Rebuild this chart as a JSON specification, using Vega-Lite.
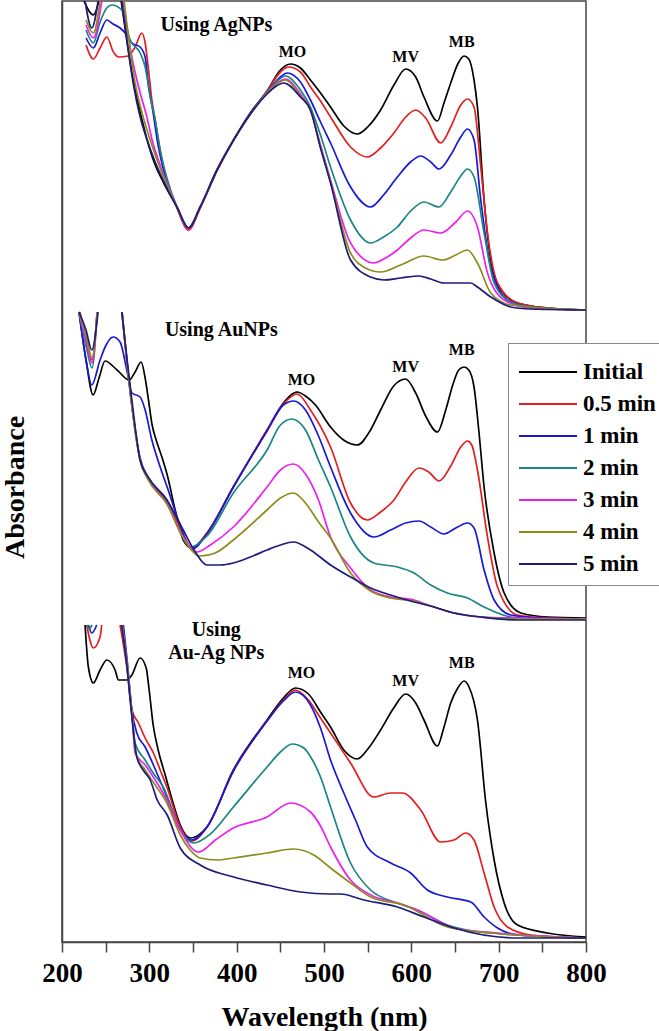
{
"$schema": "https://vega.github.io/schema/vega-lite/v6.json",
"width": 524, "height": 941, "autosize": "none",
"padding": {"left": 62, "top": 1, "right": 73, "bottom": 89},
"background": "white",
"config": {"font": "Liberation Serif", "view": {"stroke": "#444", "strokeWidth": 1.5}},
"datasets": {
"curves": [
{"s":"Initial","k":"1a","w":225.2,"a":9.41},{"s":"Initial","k":"1a","w":235.9,"a":9.27},{"s":"Initial","k":"1a","w":242.4,"a":9.41},
{"s":"Initial","k":"1b","w":267.7,"a":9.41},{"s":"Initial","k":"1b","w":274.2,"a":9.02},{"s":"Initial","k":"1b","w":281.5,"a":8.62},{"s":"Initial","k":"1b","w":289.5,"a":8.30},{"s":"Initial","k":"1b","w":297.5,"a":8.02},{"s":"Initial","k":"1b","w":306.7,"a":7.77},{"s":"Initial","k":"1b","w":315.9,"a":7.60},{"s":"Initial","k":"1b","w":331.6,"a":7.35},{"s":"Initial","k":"1b","w":344.9,"a":7.14},{"s":"Initial","k":"1b","w":358.3,"a":7.35},{"s":"Initial","k":"1b","w":377.5,"a":7.72},{"s":"Initial","k":"1b","w":396.5,"a":8.02},{"s":"Initial","k":"1b","w":415.7,"a":8.29},{"s":"Initial","k":"1b","w":434.8,"a":8.51},{"s":"Initial","k":"1b","w":450.1,"a":8.72},{"s":"Initial","k":"1b","w":461.6,"a":8.78},{"s":"Initial","k":"1b","w":473.0,"a":8.74},{"s":"Initial","k":"1b","w":484.5,"a":8.62},{"s":"Initial","k":"1b","w":496.0,"a":8.49},{"s":"Initial","k":"1b","w":507.5,"a":8.35},{"s":"Initial","k":"1b","w":522.7,"a":8.16},{"s":"Initial","k":"1b","w":538.1,"a":8.08},{"s":"Initial","k":"1b","w":551.1,"a":8.16},{"s":"Initial","k":"1b","w":564.8,"a":8.32},{"s":"Initial","k":"1b","w":580.1,"a":8.57},{"s":"Initial","k":"1b","w":593.5,"a":8.73},{"s":"Initial","k":"1b","w":605.0,"a":8.65},{"s":"Initial","k":"1b","w":614.5,"a":8.45},{"s":"Initial","k":"1b","w":629.9,"a":8.21},{"s":"Initial","k":"1b","w":637.4,"a":8.39},{"s":"Initial","k":"1b","w":645.1,"a":8.59},{"s":"Initial","k":"1b","w":653.2,"a":8.78},{"s":"Initial","k":"1b","w":660.4,"a":8.86},{"s":"Initial","k":"1b","w":665.8,"a":8.83},{"s":"Initial","k":"1b","w":671.8,"a":8.62},{"s":"Initial","k":"1b","w":675.7,"a":8.35},{"s":"Initial","k":"1b","w":683.3,"a":7.42},{"s":"Initial","k":"1b","w":691.0,"a":6.82},{"s":"Initial","k":"1b","w":702.5,"a":6.52},{"s":"Initial","k":"1b","w":721.6,"a":6.39},{"s":"Initial","k":"1b","w":756.0,"a":6.34},{"s":"Initial","k":"1b","w":800,"a":6.32},

{"s":"0.5 min","k":"1a","w":227.5,"a":8.97},{"s":"0.5 min","k":"1a","w":235.9,"a":8.83},{"s":"0.5 min","k":"1a","w":243.6,"a":8.94},{"s":"0.5 min","k":"1a","w":251.3,"a":9.05},{"s":"0.5 min","k":"1a","w":258.9,"a":8.90},{"s":"0.5 min","k":"1a","w":264.6,"a":8.85},{"s":"0.5 min","k":"1a","w":275.7,"a":8.86},{"s":"0.5 min","k":"1a","w":283.7,"a":8.95},{"s":"0.5 min","k":"1a","w":291.4,"a":9.09},{"s":"0.5 min","k":"1a","w":295.2,"a":8.99},{"s":"0.5 min","k":"1a","w":298.7,"a":8.75},{"s":"0.5 min","k":"1a","w":302.9,"a":8.42},{"s":"0.5 min","k":"1a","w":306.7,"a":8.22},{"s":"0.5 min","k":"1a","w":309.0,"a":8.09},{"s":"0.5 min","k":"1a","w":316.2,"a":7.75},{"s":"0.5 min","k":"1a","w":331.6,"a":7.34},{"s":"0.5 min","k":"1a","w":344.9,"a":7.12},{"s":"0.5 min","k":"1a","w":358.3,"a":7.34},{"s":"0.5 min","k":"1a","w":377.5,"a":7.71},{"s":"0.5 min","k":"1a","w":396.5,"a":8.02},{"s":"0.5 min","k":"1a","w":415.7,"a":8.29},{"s":"0.5 min","k":"1a","w":434.8,"a":8.51},{"s":"0.5 min","k":"1a","w":450.1,"a":8.70},{"s":"0.5 min","k":"1a","w":459.6,"a":8.75},{"s":"0.5 min","k":"1a","w":473.0,"a":8.70},{"s":"0.5 min","k":"1a","w":484.5,"a":8.55},{"s":"0.5 min","k":"1a","w":496.0,"a":8.41},{"s":"0.5 min","k":"1a","w":507.5,"a":8.25},{"s":"0.5 min","k":"1a","w":530.4,"a":7.95},{"s":"0.5 min","k":"1a","w":549.6,"a":7.85},{"s":"0.5 min","k":"1a","w":564.8,"a":7.94},{"s":"0.5 min","k":"1a","w":580.1,"a":8.09},{"s":"0.5 min","k":"1a","w":593.5,"a":8.25},{"s":"0.5 min","k":"1a","w":605.0,"a":8.32},{"s":"0.5 min","k":"1a","w":616.4,"a":8.24},{"s":"0.5 min","k":"1a","w":633.6,"a":7.99},{"s":"0.5 min","k":"1a","w":645.1,"a":8.15},{"s":"0.5 min","k":"1a","w":656.6,"a":8.37},{"s":"0.5 min","k":"1a","w":664.3,"a":8.43},{"s":"0.5 min","k":"1a","w":671.8,"a":8.35},{"s":"0.5 min","k":"1a","w":679.5,"a":7.75},{"s":"0.5 min","k":"1a","w":687.2,"a":7.09},{"s":"0.5 min","k":"1a","w":698.7,"a":6.59},{"s":"0.5 min","k":"1a","w":721.6,"a":6.39},{"s":"0.5 min","k":"1a","w":756.0,"a":6.34},{"s":"0.5 min","k":"1a","w":800,"a":6.32},

{"s":"1 min","k":"1a","w":227.5,"a":9.04},{"s":"1 min","k":"1a","w":235.9,"a":8.94},{"s":"1 min","k":"1a","w":243.6,"a":9.09},{"s":"1 min","k":"1a","w":251.3,"a":9.22},{"s":"1 min","k":"1a","w":258.5,"a":9.18},{"s":"1 min","k":"1a","w":266.5,"a":9.14},{"s":"1 min","k":"1a","w":274.2,"a":9.07},{"s":"1 min","k":"1a","w":280.0,"a":8.99},{"s":"1 min","k":"1a","w":289.5,"a":8.95},{"s":"1 min","k":"1a","w":295.2,"a":8.85},{"s":"1 min","k":"1a","w":298.7,"a":8.59},{"s":"1 min","k":"1a","w":304.4,"a":8.29},{"s":"1 min","k":"1a","w":309.0,"a":8.02},{"s":"1 min","k":"1a","w":316.2,"a":7.72},{"s":"1 min","k":"1a","w":331.6,"a":7.35},{"s":"1 min","k":"1a","w":344.9,"a":7.14},{"s":"1 min","k":"1a","w":358.3,"a":7.35},{"s":"1 min","k":"1a","w":377.5,"a":7.72},{"s":"1 min","k":"1a","w":396.5,"a":8.02},{"s":"1 min","k":"1a","w":415.7,"a":8.29},{"s":"1 min","k":"1a","w":434.8,"a":8.50},{"s":"1 min","k":"1a","w":450.1,"a":8.65},{"s":"1 min","k":"1a","w":457.8,"a":8.69},{"s":"1 min","k":"1a","w":473.0,"a":8.60},{"s":"1 min","k":"1a","w":484.5,"a":8.42},{"s":"1 min","k":"1a","w":496.0,"a":8.20},{"s":"1 min","k":"1a","w":507.5,"a":7.99},{"s":"1 min","k":"1a","w":530.4,"a":7.55},{"s":"1 min","k":"1a","w":553.3,"a":7.35},{"s":"1 min","k":"1a","w":568.2,"a":7.47},{"s":"1 min","k":"1a","w":584.0,"a":7.65},{"s":"1 min","k":"1a","w":599.2,"a":7.80},{"s":"1 min","k":"1a","w":610.7,"a":7.86},{"s":"1 min","k":"1a","w":622.2,"a":7.80},{"s":"1 min","k":"1a","w":631.7,"a":7.73},{"s":"1 min","k":"1a","w":645.1,"a":7.87},{"s":"1 min","k":"1a","w":656.6,"a":8.05},{"s":"1 min","k":"1a","w":664.3,"a":8.13},{"s":"1 min","k":"1a","w":671.8,"a":8.02},{"s":"1 min","k":"1a","w":679.5,"a":7.42},{"s":"1 min","k":"1a","w":691.0,"a":6.75},{"s":"1 min","k":"1a","w":710.2,"a":6.42},{"s":"1 min","k":"1a","w":736.9,"a":6.35},{"s":"1 min","k":"1a","w":800,"a":6.32},

{"s":"2 min","k":"1a","w":227.5,"a":9.12},{"s":"2 min","k":"1a","w":235.9,"a":8.99},{"s":"2 min","k":"1a","w":243.6,"a":9.20},{"s":"2 min","k":"1a","w":251.3,"a":9.34},{"s":"2 min","k":"1a","w":257.0,"a":9.37},{"s":"2 min","k":"1a","w":268.5,"a":9.32},{"s":"2 min","k":"1a","w":278.0,"a":9.02},{"s":"2 min","k":"1a","w":289.5,"a":8.89},{"s":"2 min","k":"1a","w":295.2,"a":8.75},{"s":"2 min","k":"1a","w":301.0,"a":8.45},{"s":"2 min","k":"1a","w":306.7,"a":8.22},{"s":"2 min","k":"1a","w":312.4,"a":7.92},{"s":"2 min","k":"1a","w":320.1,"a":7.64},{"s":"2 min","k":"1a","w":331.6,"a":7.35},{"s":"2 min","k":"1a","w":344.9,"a":7.14},{"s":"2 min","k":"1a","w":358.3,"a":7.35},{"s":"2 min","k":"1a","w":377.5,"a":7.72},{"s":"2 min","k":"1a","w":396.5,"a":8.02},{"s":"2 min","k":"1a","w":415.7,"a":8.28},{"s":"2 min","k":"1a","w":434.8,"a":8.50},{"s":"2 min","k":"1a","w":447.8,"a":8.62},{"s":"2 min","k":"1a","w":455.8,"a":8.66},{"s":"2 min","k":"1a","w":473.0,"a":8.52},{"s":"2 min","k":"1a","w":484.5,"a":8.35},{"s":"2 min","k":"1a","w":496.0,"a":8.07},{"s":"2 min","k":"1a","w":507.5,"a":7.75},{"s":"2 min","k":"1a","w":530.4,"a":7.22},{"s":"2 min","k":"1a","w":553.3,"a":6.99},{"s":"2 min","k":"1a","w":568.2,"a":7.05},{"s":"2 min","k":"1a","w":584.0,"a":7.15},{"s":"2 min","k":"1a","w":599.2,"a":7.31},{"s":"2 min","k":"1a","w":614.5,"a":7.40},{"s":"2 min","k":"1a","w":631.7,"a":7.35},{"s":"2 min","k":"1a","w":645.1,"a":7.50},{"s":"2 min","k":"1a","w":656.6,"a":7.66},{"s":"2 min","k":"1a","w":664.3,"a":7.73},{"s":"2 min","k":"1a","w":671.8,"a":7.65},{"s":"2 min","k":"1a","w":683.3,"a":7.09},{"s":"2 min","k":"1a","w":694.8,"a":6.59},{"s":"2 min","k":"1a","w":713.9,"a":6.40},{"s":"2 min","k":"1a","w":736.9,"a":6.35},{"s":"2 min","k":"1a","w":800,"a":6.32},

{"s":"3 min","k":"1a","w":227.5,"a":9.17},{"s":"3 min","k":"1a","w":235.9,"a":9.04},{"s":"3 min","k":"1a","w":245.5,"a":9.41},
{"s":"3 min","k":"1b","w":270.0,"a":9.41},{"s":"3 min","k":"1b","w":280.0,"a":8.85},{"s":"3 min","k":"1b","w":289.5,"a":8.49},{"s":"3 min","k":"1b","w":297.2,"a":8.25},{"s":"3 min","k":"1b","w":303.2,"a":8.02},{"s":"3 min","k":"1b","w":312.4,"a":7.77},{"s":"3 min","k":"1b","w":331.6,"a":7.35},{"s":"3 min","k":"1b","w":344.9,"a":7.13},{"s":"3 min","k":"1b","w":358.3,"a":7.35},{"s":"3 min","k":"1b","w":377.5,"a":7.72},{"s":"3 min","k":"1b","w":396.5,"a":8.02},{"s":"3 min","k":"1b","w":415.7,"a":8.28},{"s":"3 min","k":"1b","w":434.8,"a":8.49},{"s":"3 min","k":"1b","w":447.8,"a":8.60},{"s":"3 min","k":"1b","w":455.8,"a":8.63},{"s":"3 min","k":"1b","w":473.0,"a":8.48},{"s":"3 min","k":"1b","w":484.5,"a":8.32},{"s":"3 min","k":"1b","w":496.0,"a":7.97},{"s":"3 min","k":"1b","w":507.5,"a":7.62},{"s":"3 min","k":"1b","w":530.4,"a":6.99},{"s":"3 min","k":"1b","w":557.1,"a":6.79},{"s":"3 min","k":"1b","w":570.5,"a":6.84},{"s":"3 min","k":"1b","w":584.0,"a":6.92},{"s":"3 min","k":"1b","w":599.2,"a":7.04},{"s":"3 min","k":"1b","w":614.5,"a":7.12},{"s":"3 min","k":"1b","w":633.6,"a":7.09},{"s":"3 min","k":"1b","w":650.9,"a":7.20},{"s":"3 min","k":"1b","w":664.3,"a":7.31},{"s":"3 min","k":"1b","w":675.7,"a":7.15},{"s":"3 min","k":"1b","w":687.2,"a":6.69},{"s":"3 min","k":"1b","w":706.3,"a":6.42},{"s":"3 min","k":"1b","w":736.9,"a":6.34},{"s":"3 min","k":"1b","w":800,"a":6.32},

{"s":"4 min","k":"1a","w":227.5,"a":9.22},{"s":"4 min","k":"1a","w":235.9,"a":9.09},{"s":"4 min","k":"1a","w":243.6,"a":9.41},
{"s":"4 min","k":"1b","w":271.1,"a":9.41},{"s":"4 min","k":"1b","w":283.7,"a":8.59},{"s":"4 min","k":"1b","w":292.9,"a":8.25},{"s":"4 min","k":"1b","w":301.0,"a":8.02},{"s":"4 min","k":"1b","w":310.1,"a":7.79},{"s":"4 min","k":"1b","w":331.6,"a":7.35},{"s":"4 min","k":"1b","w":344.9,"a":7.14},{"s":"4 min","k":"1b","w":358.3,"a":7.35},{"s":"4 min","k":"1b","w":377.5,"a":7.72},{"s":"4 min","k":"1b","w":396.5,"a":8.02},{"s":"4 min","k":"1b","w":415.7,"a":8.28},{"s":"4 min","k":"1b","w":434.8,"a":8.49},{"s":"4 min","k":"1b","w":447.8,"a":8.59},{"s":"4 min","k":"1b","w":455.8,"a":8.62},{"s":"4 min","k":"1b","w":473.0,"a":8.46},{"s":"4 min","k":"1b","w":484.5,"a":8.32},{"s":"4 min","k":"1b","w":496.0,"a":7.95},{"s":"4 min","k":"1b","w":507.5,"a":7.60},{"s":"4 min","k":"1b","w":530.4,"a":6.89},{"s":"4 min","k":"1b","w":547.6,"a":6.74},{"s":"4 min","k":"1b","w":564.8,"a":6.70},{"s":"4 min","k":"1b","w":587.8,"a":6.77},{"s":"4 min","k":"1b","w":614.5,"a":6.86},{"s":"4 min","k":"1b","w":635.6,"a":6.82},{"s":"4 min","k":"1b","w":650.9,"a":6.87},{"s":"4 min","k":"1b","w":664.3,"a":6.92},{"s":"4 min","k":"1b","w":675.7,"a":6.79},{"s":"4 min","k":"1b","w":691.0,"a":6.49},{"s":"4 min","k":"1b","w":713.9,"a":6.37},{"s":"4 min","k":"1b","w":800,"a":6.32},

{"s":"5 min","k":"1a","w":226.4,"a":9.41},{"s":"5 min","k":"1a","w":234.1,"a":9.14},{"s":"5 min","k":"1a","w":241.3,"a":9.41},
{"s":"5 min","k":"1b","w":268.5,"a":9.41},{"s":"5 min","k":"1b","w":274.2,"a":9.02},{"s":"5 min","k":"1b","w":281.5,"a":8.59},{"s":"5 min","k":"1b","w":289.5,"a":8.25},{"s":"5 min","k":"1b","w":297.5,"a":8.02},{"s":"5 min","k":"1b","w":306.7,"a":7.80},{"s":"5 min","k":"1b","w":320.1,"a":7.54},{"s":"5 min","k":"1b","w":331.6,"a":7.35},{"s":"5 min","k":"1b","w":344.9,"a":7.14},{"s":"5 min","k":"1b","w":358.3,"a":7.35},{"s":"5 min","k":"1b","w":377.5,"a":7.72},{"s":"5 min","k":"1b","w":396.5,"a":8.02},{"s":"5 min","k":"1b","w":415.7,"a":8.28},{"s":"5 min","k":"1b","w":434.8,"a":8.48},{"s":"5 min","k":"1b","w":445.5,"a":8.56},{"s":"5 min","k":"1b","w":453.9,"a":8.59},{"s":"5 min","k":"1b","w":473.0,"a":8.45},{"s":"5 min","k":"1b","w":484.5,"a":8.32},{"s":"5 min","k":"1b","w":496.0,"a":7.94},{"s":"5 min","k":"1b","w":507.5,"a":7.59},{"s":"5 min","k":"1b","w":530.4,"a":6.82},{"s":"5 min","k":"1b","w":553.3,"a":6.65},{"s":"5 min","k":"1b","w":568.6,"a":6.62},{"s":"5 min","k":"1b","w":587.8,"a":6.64},{"s":"5 min","k":"1b","w":608.7,"a":6.66},{"s":"5 min","k":"1b","w":622.2,"a":6.63},{"s":"5 min","k":"1b","w":637.4,"a":6.59},{"s":"5 min","k":"1b","w":656.6,"a":6.59},{"s":"5 min","k":"1b","w":668.1,"a":6.59},{"s":"5 min","k":"1b","w":675.7,"a":6.55},{"s":"5 min","k":"1b","w":691.0,"a":6.45},{"s":"5 min","k":"1b","w":713.9,"a":6.35},{"s":"5 min","k":"1b","w":736.9,"a":6.33},{"s":"5 min","k":"1b","w":800,"a":6.32},

{"s":"Initial","k":"2a","w":219.5,"a":6.30},{"s":"Initial","k":"2a","w":227.5,"a":5.82},{"s":"Initial","k":"2a","w":235.6,"a":5.47},{"s":"Initial","k":"2a","w":242.4,"a":5.64},{"s":"Initial","k":"2a","w":249.3,"a":5.81},{"s":"Initial","k":"2a","w":263.1,"a":5.72},{"s":"Initial","k":"2a","w":276.9,"a":5.62},{"s":"Initial","k":"2a","w":283.7,"a":5.70},{"s":"Initial","k":"2a","w":290.6,"a":5.80},{"s":"Initial","k":"2a","w":295.2,"a":5.64},{"s":"Initial","k":"2a","w":298.7,"a":5.44},{"s":"Initial","k":"2a","w":303.2,"a":5.17},{"s":"Initial","k":"2a","w":307.8,"a":5.02},{"s":"Initial","k":"2a","w":313.6,"a":4.87},{"s":"Initial","k":"2a","w":320.5,"a":4.67},{"s":"Initial","k":"2a","w":329.6,"a":4.32},{"s":"Initial","k":"2a","w":338.8,"a":4.02},{"s":"Initial","k":"2a","w":348.8,"a":3.94},{"s":"Initial","k":"2a","w":366.0,"a":4.09},{"s":"Initial","k":"2a","w":396.2,"a":4.55},{"s":"Initial","k":"2a","w":434.8,"a":5.12},{"s":"Initial","k":"2a","w":453.5,"a":5.39},{"s":"Initial","k":"2a","w":469.3,"a":5.50},{"s":"Initial","k":"2a","w":478.8,"a":5.46},{"s":"Initial","k":"2a","w":490.2,"a":5.37},{"s":"Initial","k":"2a","w":507.5,"a":5.15},{"s":"Initial","k":"2a","w":522.4,"a":5.02},{"s":"Initial","k":"2a","w":538.1,"a":4.97},{"s":"Initial","k":"2a","w":553.3,"a":5.12},{"s":"Initial","k":"2a","w":564.8,"a":5.32},{"s":"Initial","k":"2a","w":579.8,"a":5.56},{"s":"Initial","k":"2a","w":593.5,"a":5.63},{"s":"Initial","k":"2a","w":605.0,"a":5.49},{"s":"Initial","k":"2a","w":616.4,"a":5.26},{"s":"Initial","k":"2a","w":629.9,"a":5.10},{"s":"Initial","k":"2a","w":639.4,"a":5.32},{"s":"Initial","k":"2a","w":647.4,"a":5.57},{"s":"Initial","k":"2a","w":654.3,"a":5.72},{"s":"Initial","k":"2a","w":660.4,"a":5.75},{"s":"Initial","k":"2a","w":665.8,"a":5.72},{"s":"Initial","k":"2a","w":671.8,"a":5.55},{"s":"Initial","k":"2a","w":677.2,"a":5.12},{"s":"Initial","k":"2a","w":683.3,"a":4.55},{"s":"Initial","k":"2a","w":694.8,"a":3.89},{"s":"Initial","k":"2a","w":706.3,"a":3.49},{"s":"Initial","k":"2a","w":725.4,"a":3.29},{"s":"Initial","k":"2a","w":756.0,"a":3.25},{"s":"Initial","k":"2a","w":800,"a":3.24},

{"s":"0.5 min","k":"2a","w":220.6,"a":6.30},{"s":"0.5 min","k":"2a","w":234.4,"a":5.82},{"s":"0.5 min","k":"2a","w":240.2,"a":6.30},
{"s":"0.5 min","k":"2b","w":268.8,"a":6.30},{"s":"0.5 min","k":"2b","w":279.2,"a":5.42},{"s":"0.5 min","k":"2b","w":289.5,"a":4.82},{"s":"0.5 min","k":"2b","w":298.7,"a":4.64},{"s":"0.5 min","k":"2b","w":320.1,"a":4.42},{"s":"0.5 min","k":"2b","w":338.8,"a":4.07},{"s":"0.5 min","k":"2b","w":348.8,"a":3.94},{"s":"0.5 min","k":"2b","w":366.0,"a":4.09},{"s":"0.5 min","k":"2b","w":396.2,"a":4.55},{"s":"0.5 min","k":"2b","w":434.8,"a":5.12},{"s":"0.5 min","k":"2b","w":453.5,"a":5.38},{"s":"0.5 min","k":"2b","w":469.3,"a":5.48},{"s":"0.5 min","k":"2b","w":484.5,"a":5.32},{"s":"0.5 min","k":"2b","w":507.5,"a":4.95},{"s":"0.5 min","k":"2b","w":530.4,"a":4.39},{"s":"0.5 min","k":"2b","w":549.6,"a":4.22},{"s":"0.5 min","k":"2b","w":564.8,"a":4.30},{"s":"0.5 min","k":"2b","w":580.1,"a":4.42},{"s":"0.5 min","k":"2b","w":593.5,"a":4.60},{"s":"0.5 min","k":"2b","w":608.7,"a":4.74},{"s":"0.5 min","k":"2b","w":619.9,"a":4.70},{"s":"0.5 min","k":"2b","w":631.7,"a":4.61},{"s":"0.5 min","k":"2b","w":645.1,"a":4.76},{"s":"0.5 min","k":"2b","w":656.6,"a":4.95},{"s":"0.5 min","k":"2b","w":664.3,"a":5.01},{"s":"0.5 min","k":"2b","w":669.2,"a":4.97},{"s":"0.5 min","k":"2b","w":675.7,"a":4.72},{"s":"0.5 min","k":"2b","w":687.2,"a":4.05},{"s":"0.5 min","k":"2b","w":698.7,"a":3.55},{"s":"0.5 min","k":"2b","w":721.6,"a":3.27},{"s":"0.5 min","k":"2b","w":756.0,"a":3.24},{"s":"0.5 min","k":"2b","w":800,"a":3.23},

{"s":"1 min","k":"2a","w":219.5,"a":6.30},{"s":"1 min","k":"2a","w":227.5,"a":5.82},{"s":"1 min","k":"2a","w":234.1,"a":5.57},{"s":"1 min","k":"2a","w":243.6,"a":5.82},{"s":"1 min","k":"2a","w":250.5,"a":5.97},{"s":"1 min","k":"2a","w":258.5,"a":6.05},{"s":"1 min","k":"2a","w":266.5,"a":6.00},{"s":"1 min","k":"2a","w":274.2,"a":5.72},{"s":"1 min","k":"2a","w":280.0,"a":5.49},{"s":"1 min","k":"2a","w":289.5,"a":5.45},{"s":"1 min","k":"2a","w":295.2,"a":5.32},{"s":"1 min","k":"2a","w":302.9,"a":5.02},{"s":"1 min","k":"2a","w":312.4,"a":4.75},{"s":"1 min","k":"2a","w":321.6,"a":4.52},{"s":"1 min","k":"2a","w":333.1,"a":4.22},{"s":"1 min","k":"2a","w":348.8,"a":3.93},{"s":"1 min","k":"2a","w":366.0,"a":4.08},{"s":"1 min","k":"2a","w":396.2,"a":4.55},{"s":"1 min","k":"2a","w":434.8,"a":5.11},{"s":"1 min","k":"2a","w":453.5,"a":5.37},{"s":"1 min","k":"2a","w":465.3,"a":5.41},{"s":"1 min","k":"2a","w":478.8,"a":5.32},{"s":"1 min","k":"2a","w":493.7,"a":5.06},{"s":"1 min","k":"2a","w":507.5,"a":4.75},{"s":"1 min","k":"2a","w":530.4,"a":4.29},{"s":"1 min","k":"2a","w":557.1,"a":4.05},{"s":"1 min","k":"2a","w":576.3,"a":4.12},{"s":"1 min","k":"2a","w":593.5,"a":4.19},{"s":"1 min","k":"2a","w":608.7,"a":4.21},{"s":"1 min","k":"2a","w":622.2,"a":4.15},{"s":"1 min","k":"2a","w":637.4,"a":4.08},{"s":"1 min","k":"2a","w":650.9,"a":4.14},{"s":"1 min","k":"2a","w":664.3,"a":4.19},{"s":"1 min","k":"2a","w":671.8,"a":4.14},{"s":"1 min","k":"2a","w":683.3,"a":3.72},{"s":"1 min","k":"2a","w":694.8,"a":3.42},{"s":"1 min","k":"2a","w":713.9,"a":3.27},{"s":"1 min","k":"2a","w":748.4,"a":3.24},{"s":"1 min","k":"2a","w":800,"a":3.23},

{"s":"2 min","k":"2a","w":219.5,"a":6.30},{"s":"2 min","k":"2a","w":227.5,"a":5.97},{"s":"2 min","k":"2a","w":234.4,"a":5.74},{"s":"2 min","k":"2a","w":240.2,"a":6.30},
{"s":"2 min","k":"2b","w":268.5,"a":6.30},{"s":"2 min","k":"2b","w":279.2,"a":5.42},{"s":"2 min","k":"2b","w":289.5,"a":4.84},{"s":"2 min","k":"2b","w":298.7,"a":4.64},{"s":"2 min","k":"2b","w":320.1,"a":4.40},{"s":"2 min","k":"2b","w":335.4,"a":4.10},{"s":"2 min","k":"2b","w":346.8,"a":3.95},{"s":"2 min","k":"2b","w":366.0,"a":4.06},{"s":"2 min","k":"2b","w":396.2,"a":4.49},{"s":"2 min","k":"2b","w":434.8,"a":4.92},{"s":"2 min","k":"2b","w":450.1,"a":5.17},{"s":"2 min","k":"2b","w":463.5,"a":5.23},{"s":"2 min","k":"2b","w":478.8,"a":5.12},{"s":"2 min","k":"2b","w":493.7,"a":4.82},{"s":"2 min","k":"2b","w":507.5,"a":4.55},{"s":"2 min","k":"2b","w":530.4,"a":4.05},{"s":"2 min","k":"2b","w":557.1,"a":3.79},{"s":"2 min","k":"2b","w":584.0,"a":3.75},{"s":"2 min","k":"2b","w":603.0,"a":3.69},{"s":"2 min","k":"2b","w":622.2,"a":3.57},{"s":"2 min","k":"2b","w":641.3,"a":3.49},{"s":"2 min","k":"2b","w":664.3,"a":3.44},{"s":"2 min","k":"2b","w":683.3,"a":3.35},{"s":"2 min","k":"2b","w":713.9,"a":3.25},{"s":"2 min","k":"2b","w":748.4,"a":3.23},{"s":"2 min","k":"2b","w":800,"a":3.23},

{"s":"3 min","k":"2a","w":219.5,"a":6.30},{"s":"3 min","k":"2a","w":227.5,"a":6.02},{"s":"3 min","k":"2a","w":234.4,"a":5.79},{"s":"3 min","k":"2a","w":240.2,"a":6.30},
{"s":"3 min","k":"2b","w":268.8,"a":6.30},{"s":"3 min","k":"2b","w":279.2,"a":5.42},{"s":"3 min","k":"2b","w":289.5,"a":4.82},{"s":"3 min","k":"2b","w":298.7,"a":4.63},{"s":"3 min","k":"2b","w":320.1,"a":4.39},{"s":"3 min","k":"2b","w":337.7,"a":4.07},{"s":"3 min","k":"2b","w":354.5,"a":3.90},{"s":"3 min","k":"2b","w":369.8,"a":3.97},{"s":"3 min","k":"2b","w":396.2,"a":4.15},{"s":"3 min","k":"2b","w":434.8,"a":4.55},{"s":"3 min","k":"2b","w":450.1,"a":4.72},{"s":"3 min","k":"2b","w":465.0,"a":4.78},{"s":"3 min","k":"2b","w":478.8,"a":4.68},{"s":"3 min","k":"2b","w":493.7,"a":4.42},{"s":"3 min","k":"2b","w":507.5,"a":4.05},{"s":"3 min","k":"2b","w":530.4,"a":3.74},{"s":"3 min","k":"2b","w":553.3,"a":3.52},{"s":"3 min","k":"2b","w":576.3,"a":3.45},{"s":"3 min","k":"2b","w":603.0,"a":3.42},{"s":"3 min","k":"2b","w":622.2,"a":3.36},{"s":"3 min","k":"2b","w":648.9,"a":3.29},{"s":"3 min","k":"2b","w":679.5,"a":3.25},{"s":"3 min","k":"2b","w":721.6,"a":3.24},{"s":"3 min","k":"2b","w":800,"a":3.23},

{"s":"4 min","k":"2a","w":219.5,"a":6.30},{"s":"4 min","k":"2a","w":227.5,"a":6.07},{"s":"4 min","k":"2a","w":234.4,"a":5.84},{"s":"4 min","k":"2a","w":240.2,"a":6.30},
{"s":"4 min","k":"2b","w":268.8,"a":6.30},{"s":"4 min","k":"2b","w":279.2,"a":5.42},{"s":"4 min","k":"2b","w":289.5,"a":4.81},{"s":"4 min","k":"2b","w":298.7,"a":4.62},{"s":"4 min","k":"2b","w":320.1,"a":4.38},{"s":"4 min","k":"2b","w":338.8,"a":4.04},{"s":"4 min","k":"2b","w":358.3,"a":3.86},{"s":"4 min","k":"2b","w":375.5,"a":3.89},{"s":"4 min","k":"2b","w":396.2,"a":4.02},{"s":"4 min","k":"2b","w":434.8,"a":4.32},{"s":"4 min","k":"2b","w":450.1,"a":4.44},{"s":"4 min","k":"2b","w":465.0,"a":4.49},{"s":"4 min","k":"2b","w":478.8,"a":4.39},{"s":"4 min","k":"2b","w":493.7,"a":4.20},{"s":"4 min","k":"2b","w":507.5,"a":4.04},{"s":"4 min","k":"2b","w":530.4,"a":3.69},{"s":"4 min","k":"2b","w":553.3,"a":3.51},{"s":"4 min","k":"2b","w":576.3,"a":3.44},{"s":"4 min","k":"2b","w":603.0,"a":3.41},{"s":"4 min","k":"2b","w":622.2,"a":3.36},{"s":"4 min","k":"2b","w":648.9,"a":3.29},{"s":"4 min","k":"2b","w":679.5,"a":3.25},{"s":"4 min","k":"2b","w":721.6,"a":3.23},{"s":"4 min","k":"2b","w":800,"a":3.23},

{"s":"5 min","k":"2a","w":219.5,"a":6.30},{"s":"5 min","k":"2a","w":227.5,"a":6.12},{"s":"5 min","k":"2a","w":234.1,"a":5.92},{"s":"5 min","k":"2a","w":241.3,"a":6.30},
{"s":"5 min","k":"2b","w":268.5,"a":6.30},{"s":"5 min","k":"2b","w":280.0,"a":5.42},{"s":"5 min","k":"2b","w":289.5,"a":4.82},{"s":"5 min","k":"2b","w":298.7,"a":4.65},{"s":"5 min","k":"2b","w":320.1,"a":4.42},{"s":"5 min","k":"2b","w":338.8,"a":4.12},{"s":"5 min","k":"2b","w":352.6,"a":3.90},{"s":"5 min","k":"2b","w":366.0,"a":3.77},{"s":"5 min","k":"2b","w":381.3,"a":3.77},{"s":"5 min","k":"2b","w":396.2,"a":3.79},{"s":"5 min","k":"2b","w":415.7,"a":3.85},{"s":"5 min","k":"2b","w":434.8,"a":3.92},{"s":"5 min","k":"2b","w":450.1,"a":3.97},{"s":"5 min","k":"2b","w":465.0,"a":4.00},{"s":"5 min","k":"2b","w":484.5,"a":3.92},{"s":"5 min","k":"2b","w":507.5,"a":3.77},{"s":"5 min","k":"2b","w":530.4,"a":3.65},{"s":"5 min","k":"2b","w":553.3,"a":3.54},{"s":"5 min","k":"2b","w":576.3,"a":3.47},{"s":"5 min","k":"2b","w":603.0,"a":3.40},{"s":"5 min","k":"2b","w":622.2,"a":3.36},{"s":"5 min","k":"2b","w":648.9,"a":3.29},{"s":"5 min","k":"2b","w":679.5,"a":3.25},{"s":"5 min","k":"2b","w":721.6,"a":3.22},{"s":"5 min","k":"2b","w":800,"a":3.22},

{"s":"Initial","k":"3a","w":226.4,"a":3.17},{"s":"Initial","k":"3a","w":230.2,"a":2.75},{"s":"Initial","k":"3a","w":235.9,"a":2.59},{"s":"Initial","k":"3a","w":243.6,"a":2.72},{"s":"Initial","k":"3a","w":251.3,"a":2.82},{"s":"Initial","k":"3a","w":260.8,"a":2.72},{"s":"Initial","k":"3a","w":264.6,"a":2.62},{"s":"Initial","k":"3a","w":274.2,"a":2.62},{"s":"Initial","k":"3a","w":280.0,"a":2.67},{"s":"Initial","k":"3a","w":289.5,"a":2.84},{"s":"Initial","k":"3a","w":296.4,"a":2.74},{"s":"Initial","k":"3a","w":299.8,"a":2.52},{"s":"Initial","k":"3a","w":304.4,"a":2.17},{"s":"Initial","k":"3a","w":310.1,"a":1.92},{"s":"Initial","k":"3a","w":318.2,"a":1.67},{"s":"Initial","k":"3a","w":326.2,"a":1.42},{"s":"Initial","k":"3a","w":335.4,"a":1.17},{"s":"Initial","k":"3a","w":346.8,"a":1.04},{"s":"Initial","k":"3a","w":366.0,"a":1.15},{"s":"Initial","k":"3a","w":396.2,"a":1.72},{"s":"Initial","k":"3a","w":434.8,"a":2.22},{"s":"Initial","k":"3a","w":453.5,"a":2.44},{"s":"Initial","k":"3a","w":467.3,"a":2.54},{"s":"Initial","k":"3a","w":482.2,"a":2.48},{"s":"Initial","k":"3a","w":496.0,"a":2.30},{"s":"Initial","k":"3a","w":507.5,"a":2.15},{"s":"Initial","k":"3a","w":522.7,"a":1.92},{"s":"Initial","k":"3a","w":538.1,"a":1.83},{"s":"Initial","k":"3a","w":551.1,"a":1.94},{"s":"Initial","k":"3a","w":564.8,"a":2.12},{"s":"Initial","k":"3a","w":579.8,"a":2.34},{"s":"Initial","k":"3a","w":593.5,"a":2.48},{"s":"Initial","k":"3a","w":605.0,"a":2.39},{"s":"Initial","k":"3a","w":614.5,"a":2.22},{"s":"Initial","k":"3a","w":629.9,"a":1.96},{"s":"Initial","k":"3a","w":637.1,"a":2.14},{"s":"Initial","k":"3a","w":645.1,"a":2.39},{"s":"Initial","k":"3a","w":653.2,"a":2.54},{"s":"Initial","k":"3a","w":660.4,"a":2.61},{"s":"Initial","k":"3a","w":666.1,"a":2.55},{"s":"Initial","k":"3a","w":675.7,"a":2.22},{"s":"Initial","k":"3a","w":685.3,"a":1.39},{"s":"Initial","k":"3a","w":694.8,"a":0.82},{"s":"Initial","k":"3a","w":706.3,"a":0.39},{"s":"Initial","k":"3a","w":721.6,"a":0.17},{"s":"Initial","k":"3a","w":756.0,"a":0.09},{"s":"Initial","k":"3a","w":800,"a":0.05},

{"s":"0.5 min","k":"3a","w":228.3,"a":3.17},{"s":"0.5 min","k":"3a","w":235.9,"a":2.94},{"s":"0.5 min","k":"3a","w":243.6,"a":3.05},{"s":"0.5 min","k":"3a","w":245.5,"a":3.17},
{"s":"0.5 min","k":"3b","w":266.5,"a":3.17},{"s":"0.5 min","k":"3b","w":274.2,"a":2.75},{"s":"0.5 min","k":"3b","w":280.0,"a":2.32},{"s":"0.5 min","k":"3b","w":287.5,"a":2.19},{"s":"0.5 min","k":"3b","w":295.2,"a":2.04},{"s":"0.5 min","k":"3b","w":304.7,"a":1.89},{"s":"0.5 min","k":"3b","w":312.4,"a":1.72},{"s":"0.5 min","k":"3b","w":320.1,"a":1.55},{"s":"0.5 min","k":"3b","w":335.4,"a":1.15},{"s":"0.5 min","k":"3b","w":348.8,"a":1.01},{"s":"0.5 min","k":"3b","w":366.0,"a":1.15},{"s":"0.5 min","k":"3b","w":396.2,"a":1.71},{"s":"0.5 min","k":"3b","w":434.8,"a":2.21},{"s":"0.5 min","k":"3b","w":453.5,"a":2.42},{"s":"0.5 min","k":"3b","w":467.3,"a":2.52},{"s":"0.5 min","k":"3b","w":482.2,"a":2.42},{"s":"0.5 min","k":"3b","w":496.0,"a":2.24},{"s":"0.5 min","k":"3b","w":507.5,"a":2.09},{"s":"0.5 min","k":"3b","w":530.4,"a":1.79},{"s":"0.5 min","k":"3b","w":557.1,"a":1.45},{"s":"0.5 min","k":"3b","w":576.3,"a":1.49},{"s":"0.5 min","k":"3b","w":589.7,"a":1.49},{"s":"0.5 min","k":"3b","w":610.7,"a":1.32},{"s":"0.5 min","k":"3b","w":633.6,"a":1.00},{"s":"0.5 min","k":"3b","w":648.9,"a":1.02},{"s":"0.5 min","k":"3b","w":662.3,"a":1.09},{"s":"0.5 min","k":"3b","w":671.8,"a":1.02},{"s":"0.5 min","k":"3b","w":683.3,"a":0.69},{"s":"0.5 min","k":"3b","w":694.8,"a":0.35},{"s":"0.5 min","k":"3b","w":710.2,"a":0.15},{"s":"0.5 min","k":"3b","w":736.9,"a":0.07},{"s":"0.5 min","k":"3b","w":800,"a":0.04},

{"s":"1 min","k":"3a","w":230.2,"a":3.17},{"s":"1 min","k":"3a","w":234.1,"a":3.09},{"s":"1 min","k":"3a","w":239.8,"a":3.17},
{"s":"1 min","k":"3b","w":270.3,"a":3.17},{"s":"1 min","k":"3b","w":274.6,"a":2.82},{"s":"1 min","k":"3b","w":280.0,"a":2.32},{"s":"1 min","k":"3b","w":285.7,"a":2.09},{"s":"1 min","k":"3b","w":295.2,"a":1.95},{"s":"1 min","k":"3b","w":308.6,"a":1.69},{"s":"1 min","k":"3b","w":321.6,"a":1.42},{"s":"1 min","k":"3b","w":335.4,"a":1.12},{"s":"1 min","k":"3b","w":348.8,"a":1.02},{"s":"1 min","k":"3b","w":366.0,"a":1.15},{"s":"1 min","k":"3b","w":396.2,"a":1.71},{"s":"1 min","k":"3b","w":434.8,"a":2.21},{"s":"1 min","k":"3b","w":453.5,"a":2.41},{"s":"1 min","k":"3b","w":467.3,"a":2.50},{"s":"1 min","k":"3b","w":484.5,"a":2.37},{"s":"1 min","k":"3b","w":496.0,"a":2.14},{"s":"1 min","k":"3b","w":507.5,"a":1.82},{"s":"1 min","k":"3b","w":522.7,"a":1.49},{"s":"1 min","k":"3b","w":536.1,"a":1.22},{"s":"1 min","k":"3b","w":549.6,"a":0.95},{"s":"1 min","k":"3b","w":576.3,"a":0.79},{"s":"1 min","k":"3b","w":599.2,"a":0.69},{"s":"1 min","k":"3b","w":618.4,"a":0.52},{"s":"1 min","k":"3b","w":641.3,"a":0.45},{"s":"1 min","k":"3b","w":668.1,"a":0.40},{"s":"1 min","k":"3b","w":683.3,"a":0.25},{"s":"1 min","k":"3b","w":698.7,"a":0.14},{"s":"1 min","k":"3b","w":721.6,"a":0.07},{"s":"1 min","k":"3b","w":800,"a":0.04},

{"s":"2 min","k":"3a","w":228.7,"a":3.17},{"s":"2 min","k":"3a","w":231.0,"a":3.13},{"s":"2 min","k":"3a","w":234.4,"a":3.17},
{"s":"2 min","k":"3b","w":269.4,"a":3.17},{"s":"2 min","k":"3b","w":274.6,"a":2.77},{"s":"2 min","k":"3b","w":280.0,"a":2.30},{"s":"2 min","k":"3b","w":283.7,"a":1.99},{"s":"2 min","k":"3b","w":295.2,"a":1.82},{"s":"2 min","k":"3b","w":304.4,"a":1.69},{"s":"2 min","k":"3b","w":315.9,"a":1.55},{"s":"2 min","k":"3b","w":335.4,"a":1.12},{"s":"2 min","k":"3b","w":350.6,"a":0.99},{"s":"2 min","k":"3b","w":369.8,"a":1.08},{"s":"2 min","k":"3b","w":396.2,"a":1.35},{"s":"2 min","k":"3b","w":434.8,"a":1.75},{"s":"2 min","k":"3b","w":450.1,"a":1.90},{"s":"2 min","k":"3b","w":463.5,"a":1.98},{"s":"2 min","k":"3b","w":476.8,"a":1.94},{"s":"2 min","k":"3b","w":486.8,"a":1.82},{"s":"2 min","k":"3b","w":496.0,"a":1.65},{"s":"2 min","k":"3b","w":507.5,"a":1.35},{"s":"2 min","k":"3b","w":530.4,"a":0.79},{"s":"2 min","k":"3b","w":553.3,"a":0.52},{"s":"2 min","k":"3b","w":584.0,"a":0.39},{"s":"2 min","k":"3b","w":606.9,"a":0.32},{"s":"2 min","k":"3b","w":641.3,"a":0.17},{"s":"2 min","k":"3b","w":679.5,"a":0.10},{"s":"2 min","k":"3b","w":800,"a":0.04},

{"s":"3 min","k":"3b","w":268.8,"a":3.17},{"s":"3 min","k":"3b","w":274.6,"a":2.77},{"s":"3 min","k":"3b","w":280.0,"a":2.30},{"s":"3 min","k":"3b","w":283.7,"a":1.89},{"s":"3 min","k":"3b","w":295.2,"a":1.77},{"s":"3 min","k":"3b","w":306.7,"a":1.62},{"s":"3 min","k":"3b","w":320.1,"a":1.42},{"s":"3 min","k":"3b","w":335.4,"a":1.12},{"s":"3 min","k":"3b","w":356.4,"a":0.90},{"s":"3 min","k":"3b","w":375.5,"a":1.02},{"s":"3 min","k":"3b","w":396.2,"a":1.14},{"s":"3 min","k":"3b","w":434.8,"a":1.25},{"s":"3 min","k":"3b","w":461.6,"a":1.39},{"s":"3 min","k":"3b","w":484.5,"a":1.30},{"s":"3 min","k":"3b","w":496.0,"a":1.16},{"s":"3 min","k":"3b","w":507.5,"a":0.95},{"s":"3 min","k":"3b","w":530.4,"a":0.62},{"s":"3 min","k":"3b","w":553.3,"a":0.47},{"s":"3 min","k":"3b","w":584.0,"a":0.39},{"s":"3 min","k":"3b","w":606.9,"a":0.32},{"s":"3 min","k":"3b","w":648.9,"a":0.14},{"s":"3 min","k":"3b","w":698.7,"a":0.09},{"s":"3 min","k":"3b","w":800,"a":0.04},

{"s":"4 min","k":"3b","w":268.5,"a":3.17},{"s":"4 min","k":"3b","w":274.6,"a":2.77},{"s":"4 min","k":"3b","w":280.0,"a":2.28},{"s":"4 min","k":"3b","w":284.9,"a":1.87},{"s":"4 min","k":"3b","w":295.2,"a":1.72},{"s":"4 min","k":"3b","w":306.7,"a":1.57},{"s":"4 min","k":"3b","w":320.1,"a":1.39},{"s":"4 min","k":"3b","w":335.4,"a":1.07},{"s":"4 min","k":"3b","w":346.8,"a":0.92},{"s":"4 min","k":"3b","w":358.3,"a":0.84},{"s":"4 min","k":"3b","w":377.5,"a":0.82},{"s":"4 min","k":"3b","w":396.5,"a":0.84},{"s":"4 min","k":"3b","w":434.8,"a":0.89},{"s":"4 min","k":"3b","w":465.3,"a":0.93},{"s":"4 min","k":"3b","w":488.3,"a":0.87},{"s":"4 min","k":"3b","w":507.5,"a":0.74},{"s":"4 min","k":"3b","w":530.4,"a":0.59},{"s":"4 min","k":"3b","w":553.3,"a":0.45},{"s":"4 min","k":"3b","w":591.5,"a":0.37},{"s":"4 min","k":"3b","w":641.3,"a":0.15},{"s":"4 min","k":"3b","w":691.0,"a":0.09},{"s":"4 min","k":"3b","w":800,"a":0.04},

{"s":"5 min","k":"3b","w":268.3,"a":3.17},{"s":"5 min","k":"3b","w":274.2,"a":2.77},{"s":"5 min","k":"3b","w":280.0,"a":2.25},{"s":"5 min","k":"3b","w":285.7,"a":1.85},{"s":"5 min","k":"3b","w":292.9,"a":1.72},{"s":"5 min","k":"3b","w":301.0,"a":1.62},{"s":"5 min","k":"3b","w":309.0,"a":1.42},{"s":"5 min","k":"3b","w":320.5,"a":1.27},{"s":"5 min","k":"3b","w":335.4,"a":0.94},{"s":"5 min","k":"3b","w":358.3,"a":0.77},{"s":"5 min","k":"3b","w":396.5,"a":0.65},{"s":"5 min","k":"3b","w":434.8,"a":0.57},{"s":"5 min","k":"3b","w":473.0,"a":0.50},{"s":"5 min","k":"3b","w":507.5,"a":0.48},{"s":"5 min","k":"3b","w":518.9,"a":0.48},{"s":"5 min","k":"3b","w":545.7,"a":0.42},{"s":"5 min","k":"3b","w":584.0,"a":0.35},{"s":"5 min","k":"3b","w":614.5,"a":0.25},{"s":"5 min","k":"3b","w":648.9,"a":0.14},{"s":"5 min","k":"3b","w":721.6,"a":0.04},{"s":"5 min","k":"3b","w":800,"a":0.04}
],
"titles": [
{"t":"Using AgNPs","w":376.7,"a":9.11},
{"t":"Using AuNPs","w":382.4,"a":6.06},
{"t":"Using","w":376.7,"a":3.06},
{"t":"Au-Ag NPs","w":376.7,"a":2.83}
],
"peaks": [
{"t":"MO","w":463.9,"a":8.85},{"t":"MV","w":593.5,"a":8.80},{"t":"MB","w":657.7,"a":8.95},
{"t":"MO","w":474.2,"a":5.57},{"t":"MV","w":593.5,"a":5.70},{"t":"MB","w":657.7,"a":5.87},
{"t":"MO","w":474.2,"a":2.64},{"t":"MV","w":593.5,"a":2.56},{"t":"MB","w":657.7,"a":2.74}
]
},
"layer": [
{
"data": {"name": "curves"},
"mark": {"type": "line", "strokeWidth": 1.7, "clip": true, "interpolate": "monotone"},
"encoding": {
"x": {"field": "w", "type": "quantitative", "scale": {"domain": [200, 800], "nice": false, "zero": false},
"axis": {"values": [200,250,300,350,400,450,500,550,600,650,700,750,800],
"labelExpr": "datum.value % 100 === 0 ? datum.label : ''", "labelOverlap": false, "labelFlush": false,
"labelFontSize": 27, "labelFontWeight": "bold", "labelFont": "Liberation Serif", "labelColor": "#000", "labelPadding": 8,
"tickSize": 10, "tickWidth": 1.5, "tickColor": "#444", "domainColor": "#444", "domainWidth": 1.5, "grid": false,
"title": "Wavelength (nm)", "titleFontSize": 28, "titleFontWeight": "bold", "titleFont": "Liberation Serif", "titleColor": "#000",
"titleX": 262, "titleY": 83, "titleAlign": "center", "titleBaseline": "alphabetic",
"encode": {"ticks": {"update": {"y2": {"signal": "datum.value % 100 === 0 ? 10 : 5"}}}}}},
"y": {"field": "a", "type": "quantitative", "scale": {"domain": [0, 9.41], "nice": false, "zero": false},
"axis": {"ticks": false, "labels": false, "grid": false, "domainColor": "#444", "domainWidth": 1.5,
"title": "Absorbance", "titleFontSize": 28, "titleFontWeight": "bold", "titleFont": "Liberation Serif", "titleColor": "#000",
"titleAngle": 270, "titleX": -39, "titleY": 486, "titleAlign": "center", "titleBaseline": "alphabetic"}},
"color": {"field": "s", "type": "nominal",
"scale": {"domain": ["Initial","0.5 min","1 min","2 min","3 min","4 min","5 min"],
"range": ["#000000","#e41e1e","#1818d8","#1a8585","#ee1eee","#8c8c1a","#1c1c7a"]},
"legend": {"orient": "none", "legendX": 446, "legendY": 342, "title": " ", "titleFontSize": 6, "titlePadding": 2,
"padding": 6, "fillColor": "white", "strokeColor": "#888",
"symbolType": "stroke", "symbolSize": 3364, "symbolStrokeWidth": 2, "symbolOffset": 4,
"labelFont": "Liberation Serif", "labelFontSize": 23, "labelFontWeight": "bold", "labelColor": "#000", "labelOffset": 5, "labelLimit": 200,
"clipHeight": 30, "rowPadding": 2}},
"detail": {"field": "k"}
}
},
{
"data": {"name": "titles"},
"mark": {"type": "text", "fontSize": 20, "fontWeight": "bold", "font": "Liberation Serif", "align": "center", "baseline": "alphabetic", "color": "#000"},
"encoding": {"x": {"field": "w", "type": "quantitative", "title": "Wavelength (nm)"}, "y": {"field": "a", "type": "quantitative", "title": "Absorbance"}, "text": {"field": "t"}}
},
{
"data": {"name": "peaks"},
"mark": {"type": "text", "fontSize": 16, "fontWeight": "bold", "font": "Liberation Serif", "align": "center", "baseline": "alphabetic", "color": "#000"},
"encoding": {"x": {"field": "w", "type": "quantitative", "title": "Wavelength (nm)"}, "y": {"field": "a", "type": "quantitative", "title": "Absorbance"}, "text": {"field": "t"}}
}
]
}
